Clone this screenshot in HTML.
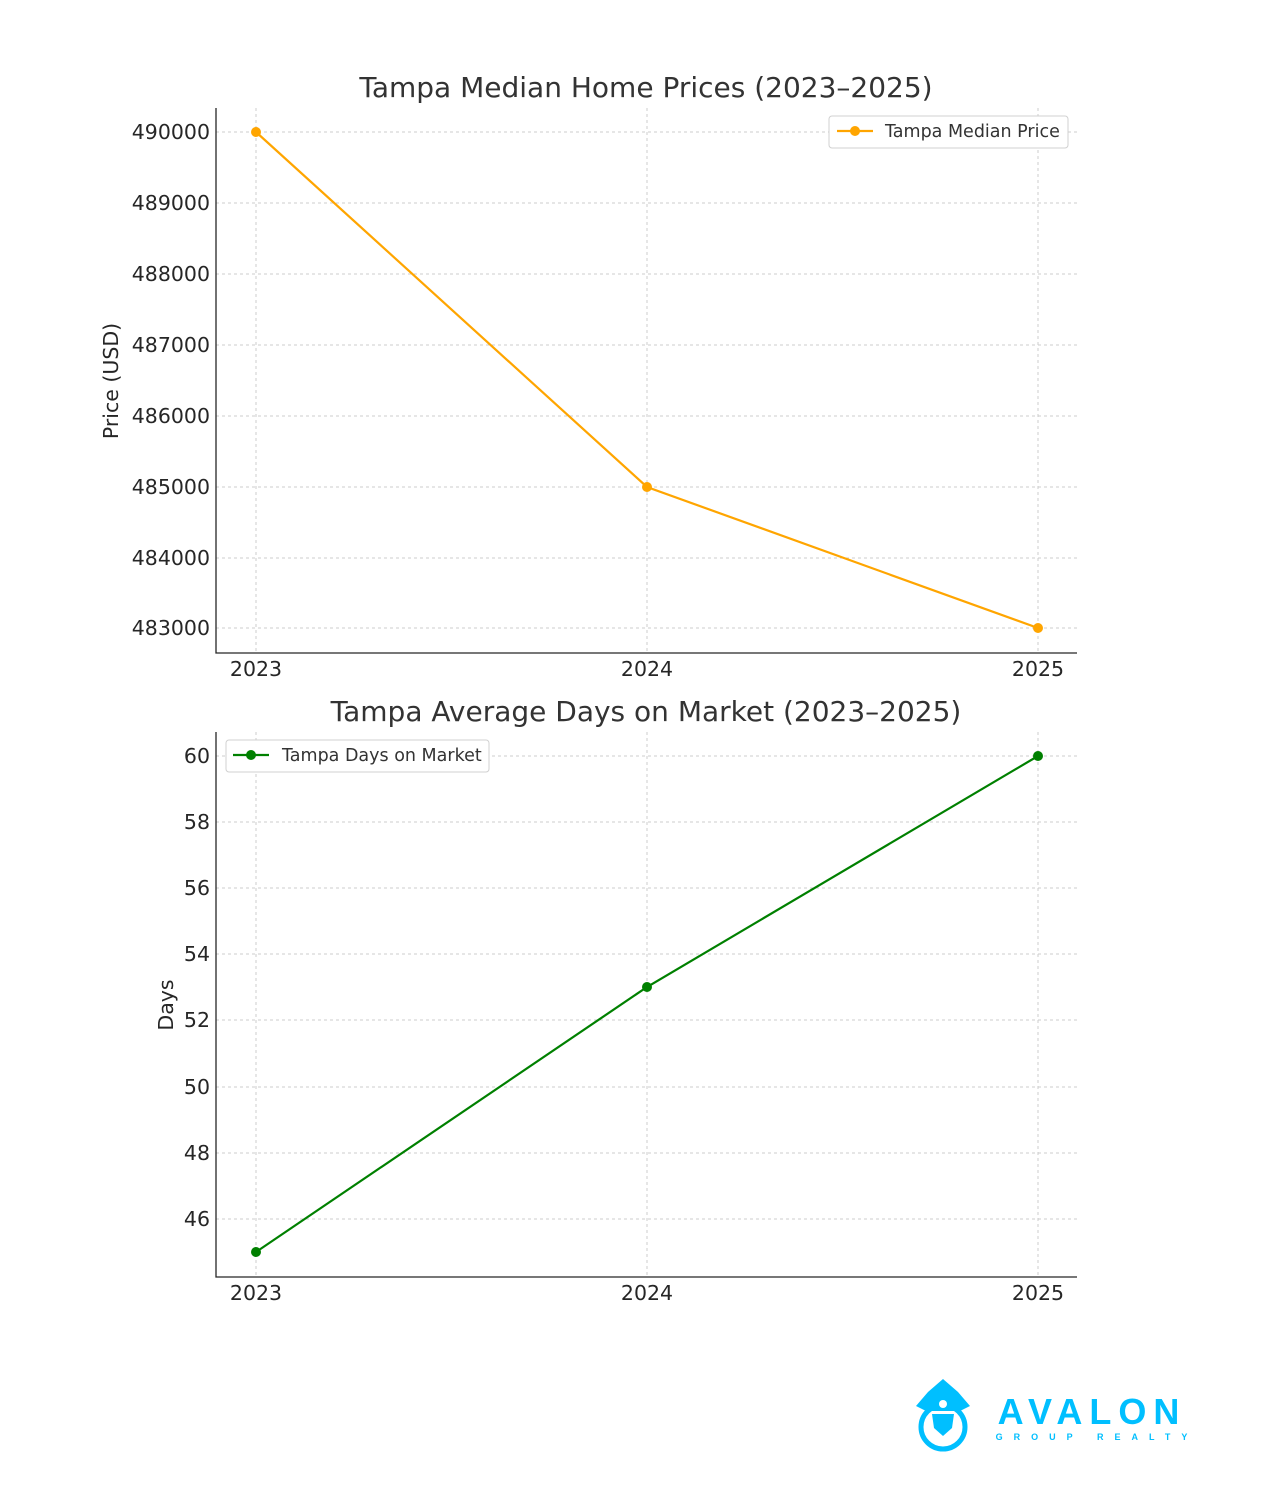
<!DOCTYPE html>
<html><head><meta charset="utf-8"><style>body{margin:0;background:#fff}</style></head><body>
<svg width="1275" height="1500" xmlns="http://www.w3.org/2000/svg" font-family="DejaVu Sans, Liberation Sans, sans-serif">
<rect width="1275" height="1500" fill="#fff"/>
<g stroke="#cccccc" stroke-dasharray="3,3" stroke-width="1">
<line x1="256" y1="108" x2="256" y2="653"/><line x1="647" y1="108" x2="647" y2="653"/><line x1="1038" y1="108" x2="1038" y2="653"/>
<line x1="216" y1="132" x2="1077" y2="132"/><line x1="216" y1="203" x2="1077" y2="203"/><line x1="216" y1="274" x2="1077" y2="274"/><line x1="216" y1="345" x2="1077" y2="345"/><line x1="216" y1="416" x2="1077" y2="416"/><line x1="216" y1="487" x2="1077" y2="487"/><line x1="216" y1="558" x2="1077" y2="558"/><line x1="216" y1="628" x2="1077" y2="628"/>
<line x1="256" y1="732" x2="256" y2="1277"/><line x1="647" y1="732" x2="647" y2="1277"/><line x1="1038" y1="732" x2="1038" y2="1277"/>
<line x1="216" y1="756" x2="1077" y2="756"/><line x1="216" y1="822" x2="1077" y2="822"/><line x1="216" y1="888" x2="1077" y2="888"/><line x1="216" y1="954" x2="1077" y2="954"/><line x1="216" y1="1020" x2="1077" y2="1020"/><line x1="216" y1="1087" x2="1077" y2="1087"/><line x1="216" y1="1153" x2="1077" y2="1153"/><line x1="216" y1="1219" x2="1077" y2="1219"/>
</g>
<g stroke="#262626" stroke-width="1.3" fill="none">
<polyline points="216,108 216,653 1077,653"/>
<polyline points="216,732 216,1277 1077,1277"/>
</g>
<g fill="#333" font-size="28" text-anchor="middle">
<text x="646" y="97">Tampa Median Home Prices (2023–2025)</text>
<text x="646" y="721">Tampa Average Days on Market (2023–2025)</text>
</g>
<g fill="#262626" font-size="20.5" text-anchor="end">
<text x="210" y="139">490000</text><text x="210" y="210">489000</text><text x="210" y="281">488000</text><text x="210" y="352">487000</text><text x="210" y="423">486000</text><text x="210" y="494">485000</text><text x="210" y="565">484000</text><text x="210" y="635">483000</text>
<text x="210" y="763">60</text><text x="210" y="829">58</text><text x="210" y="895">56</text><text x="210" y="961">54</text><text x="210" y="1027">52</text><text x="210" y="1094">50</text><text x="210" y="1160">48</text><text x="210" y="1226">46</text>
</g>
<g fill="#262626" font-size="20.5" text-anchor="middle">
<text x="256" y="676">2023</text><text x="647" y="676">2024</text><text x="1038" y="676">2025</text>
<text x="256" y="1300">2023</text><text x="647" y="1300">2024</text><text x="1038" y="1300">2025</text>
<text transform="translate(118,381) rotate(-90)">Price (USD)</text>
<text transform="translate(173,1005) rotate(-90)">Days</text>
</g>
<polyline points="256,132 647,487 1038,628" fill="none" stroke="#ffa500" stroke-width="2.2"/>
<g fill="#ffa500"><circle cx="256" cy="132" r="5"/><circle cx="647" cy="487" r="5"/><circle cx="1038" cy="628" r="5"/></g>
<polyline points="256,1252 647,987 1038,756" fill="none" stroke="#008000" stroke-width="2.2"/>
<g fill="#008000"><circle cx="256" cy="1252" r="5"/><circle cx="647" cy="987" r="5"/><circle cx="1038" cy="756" r="5"/></g>
<rect x="829" y="116" width="239" height="32" rx="3" fill="#fff" stroke="#d0d0d0"/>
<line x1="837" y1="131" x2="873" y2="131" stroke="#ffa500" stroke-width="2.2"/><circle cx="855" cy="131" r="5" fill="#ffa500"/>
<text x="885" y="137" font-size="17.5" fill="#333">Tampa Median Price</text>
<rect x="226" y="740" width="263" height="32" rx="3" fill="#fff" stroke="#d0d0d0"/>
<line x1="233" y1="755" x2="269" y2="755" stroke="#008000" stroke-width="2.2"/><circle cx="251" cy="755" r="5" fill="#008000"/>
<text x="282" y="761" font-size="17.5" fill="#333">Tampa Days on Market</text>
<g fill="#00bfff" stroke="#00bfff">
<circle cx="943" cy="1427" r="22" fill="none" stroke-width="5"/>
<path d="M916 1406 L928 1392 L943 1379 L958 1392 L970 1406 L960 1411 L926 1411 Z" stroke="none"/>
<circle cx="943" cy="1404" r="4" fill="#fff" stroke="none"/>
<path d="M932 1414 L954 1414 L952 1428 L943 1436 L934 1428 Z" stroke="none"/>
</g>
<text x="1092" y="1424" font-size="36" font-weight="bold" fill="#00bfff" text-anchor="middle" letter-spacing="7" font-family="Liberation Sans, sans-serif">AVALON</text>
<text x="1097" y="1440" font-size="9" font-weight="bold" fill="#00bfff" text-anchor="middle" letter-spacing="11" font-family="Liberation Sans, sans-serif">GROUP REALTY</text>
</svg>
</body></html>
